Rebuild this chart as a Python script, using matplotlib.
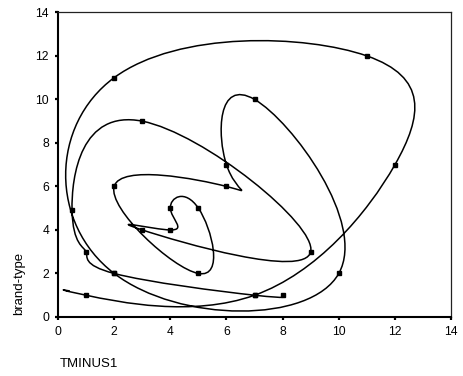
import numpy as np
import matplotlib
matplotlib.use("Agg")
import matplotlib.pyplot as plt
from matplotlib.path import Path
from matplotlib.patches import PathPatch

# Data: points in drawing order (x = TMINUS1, y = brand-type)
tminus1 = [0.4, 1, 7, 12, 11, 2, 2, 10, 7, 6, 6, 2, 5, 5, 4, 4, 3, 9, 3, 0.5, 1, 2, 7, 8]
brand_type = [1.2, 1, 1, 7, 12, 11, 2, 2, 10, 7, 6, 6, 2, 5, 5, 4, 4, 3, 9, 4.9, 3, 2, 1, 1]
x_ticks = [0, 2, 4, 6, 8, 10, 12, 14]
y_ticks = [0, 2, 4, 6, 8, 10, 12, 14]

plt.rcParams['font.family'] = ['Liberation Sans', 'DejaVu Sans']

fig = plt.figure(figsize=(4.63, 3.76), dpi=100)
ax = fig.add_axes([0.1253, 0.157, 0.849, 0.810])


def spline_path(xs, ys):
    """Natural parametric cubic spline drawn as Bezier segments."""
    P = np.column_stack([xs, ys]).astype(float)
    n = len(P)
    A = np.zeros((n, n))
    R = np.zeros((n, 2))
    A[0, 0], A[0, 1] = 2, 1
    R[0] = 3 * (P[1] - P[0])
    A[-1, -2], A[-1, -1] = 1, 2
    R[-1] = 3 * (P[-1] - P[-2])
    for i in range(1, n - 1):
        A[i, i - 1], A[i, i], A[i, i + 1] = 1, 4, 1
        R[i] = 3 * (P[i + 1] - P[i - 1])
    D = np.linalg.solve(A, R)
    verts = [tuple(P[0])]
    codes = [Path.MOVETO]
    for i in range(n - 1):
        verts += [tuple(P[i] + D[i] / 3), tuple(P[i + 1] - D[i + 1] / 3), tuple(P[i + 1])]
        codes += [Path.CURVE4] * 3
    return Path(verts, codes)


ax.add_patch(PathPatch(spline_path(tminus1, brand_type), facecolor='none',
                       edgecolor='black', lw=1.1, capstyle='round', joinstyle='round'))
ax.plot(tminus1[1:], brand_type[1:], linestyle='none', marker='s', ms=2.2,
        color='black')

ax.set_xlim(0, 14)
ax.set_ylim(0, 14)
ax.set_xticks(x_ticks)
ax.set_yticks(y_ticks)
ax.tick_params(direction='out', length=2.5, width=1.6, labelsize=8.7, pad=4)

for s in ('left', 'bottom'):
    ax.spines[s].set_linewidth(1.5)
for s in ('top', 'right'):
    ax.spines[s].set_linewidth(0.9)
    ax.spines[s].set_color('#222222')

ax.set_xlabel('TMINUS1', fontsize=9.5, ha='left', va='center')
ax.xaxis.set_label_coords(0.005, -0.154)
ax.set_ylabel('brand-type', fontsize=9.5, ha='center', va='center')
ax.yaxis.set_label_coords(-0.099, 0.11)

fig.savefig('out.png', dpi=100)
